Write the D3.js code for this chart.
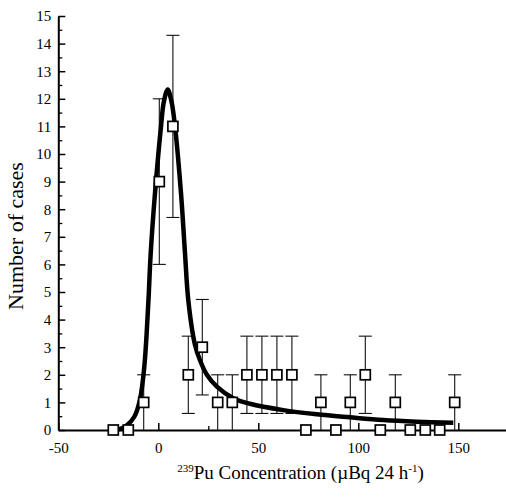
<!DOCTYPE html>
<html>
<head>
<meta charset="utf-8">
<script src="https://cdn.jsdelivr.net/npm/d3@7"></script>
<style>
  body { margin: 0; background: #fff; }
  svg { display: block; font-family: "Liberation Serif", "Times New Roman", serif; }
</style>
</head>
<body>
<svg id="chart"></svg>
<script>
// bin centres and counts
const binX = [-22.5, -15, -7.3, 0.5, 7.3, 15, 22, 29.7, 37, 44.3, 51.8, 59.3, 66.8,
  73.8, 81.3, 88.8, 96, 103.5, 111, 118.5, 126, 133.5, 140.7, 148.2];
const counts = [0, 0, 1, 9, 11, 2, 3, 1, 1, 2, 2, 2, 2, 0, 1, 0, 1, 2, 0, 1, 0, 0, 0, 1];
// error bar ends (null = no bar)
const errLo = [null, null, 0, 6, 7.7, 0.6, 1.27, 0, 0, 0.6, 0.6, 0.6, 0.6,
  null, 0, null, 0, 0.6, null, 0, null, null, null, 0];
const errHi = [null, null, 2, 12, 14.3, 3.4, 4.73, 2, 2, 3.4, 3.4, 3.4, 3.4,
  null, 2, null, 2, 3.4, null, 2, null, null, null, 2];

// fitted curve, points
const fitX = [-22, -19, -16, -12, -9.2, -7, -5, -3.8, -1.65, 1.35, 2.8, 4.7, 6.6, 8.35,
  11.35, 13.35, 15, 18.3, 21, 24.3, 29.3, 37.5, 45.8, 62.5, 79.2, 95.8, 112.5, 129.2, 147.5];
const fitY = [0, 0.04, 0.15, 0.48, 1.09, 2.29, 4.6, 6.4, 8.58, 11.0, 11.9, 12.34, 11.9, 11.0,
  8.58, 6.4, 4.7, 3.1, 2.5, 2.0, 1.57, 1.15, 0.95, 0.72, 0.57, 0.46, 0.36, 0.3, 0.26];

const xTicks = [-50, 0, 50, 100, 150];
const xMinor = [-25, 25, 75, 125];
const yTicks = d3.range(0, 16);
const yMinor = d3.range(0.5, 15, 1);

const width = 506, height = 498;
const svg = d3.select("#chart").attr("width", width).attr("height", height);

const x = d3.scaleLinear().domain([-50, 175]).range([58.3, 508.3]);
const y = d3.scaleLinear().domain([0, 15]).range([430, 16]);

// minor ticks first, no labels
svg.append("g")
  .attr("transform", "translate(0,430)")
  .call(d3.axisBottom(x).tickValues(xMinor).tickSize(-4).tickFormat(""))
  .call(g => g.select(".domain").remove())
  .call(g => g.selectAll("line").attr("stroke-width", 1.3));
svg.append("g")
  .attr("transform", "translate(58.3,0)")
  .call(d3.axisLeft(y).tickValues(yMinor).tickSize(-4).tickFormat(""))
  .call(g => g.select(".domain").remove())
  .call(g => g.selectAll("line").attr("stroke-width", 1.3));

// main axes
const xAxis = svg.append("g")
  .attr("transform", "translate(0,430)")
  .call(d3.axisBottom(x).tickValues(xTicks).tickFormat(d => String(d))
    .tickSize(-7).tickSizeOuter(0).tickPadding(12));
const yAxis = svg.append("g")
  .attr("transform", "translate(58.3,0)")
  .call(d3.axisLeft(y).tickValues(yTicks).tickFormat(d => String(d))
    .tickSize(-7).tickSizeOuter(0).tickPadding(7));

[xAxis, yAxis].forEach(g => {
  g.attr("font-family", "Liberation Serif, Times New Roman, serif")
    .attr("font-size", 15);
  g.select(".domain").attr("stroke-width", 2);
  g.selectAll(".tick line").attr("stroke-width", 1.5);
  g.selectAll("text").attr("fill", "#000");
});

// error bars
const bars = svg.append("g").attr("stroke", "#111").attr("stroke-width", 1.1);
binX.forEach((bx, i) => {
  if (errLo[i] == null) return;
  const cx = x(bx);
  bars.append("line").attr("x1", cx).attr("x2", cx).attr("y1", y(errLo[i])).attr("y2", y(errHi[i]));
  bars.append("line").attr("x1", cx - 6.5).attr("x2", cx + 6.5).attr("y1", y(errHi[i])).attr("y2", y(errHi[i]));
  if (errLo[i] > 0) {
    bars.append("line").attr("x1", cx - 6.5).attr("x2", cx + 6.5).attr("y1", y(errLo[i])).attr("y2", y(errLo[i]));
  }
});

// fitted curve
const line = d3.line()
  .x(d => x(d[0]))
  .y(d => y(d[1]))
  .curve(d3.curveCatmullRom.alpha(0.5));
svg.append("path")
  .datum(fitX.map((v, i) => [v, fitY[i]]))
  .attr("fill", "none")
  .attr("stroke", "#000")
  .attr("stroke-width", 4.5)
  .attr("stroke-linejoin", "round")
  .attr("d", line);

// data squares
svg.append("g")
  .selectAll("rect")
  .data(binX)
  .join("rect")
  .attr("x", d => x(d) - 5)
  .attr("y", (d, i) => y(counts[i]) - 5)
  .attr("width", 10)
  .attr("height", 10)
  .attr("fill", "#fff")
  .attr("stroke", "#000")
  .attr("stroke-width", 1.7);

// axis titles
const xl = svg.append("text")
  .attr("x", 300.5)
  .attr("y", 479)
  .attr("text-anchor", "middle")
  .style("font-size", "19px");
xl.append("tspan").attr("font-size", "11px").attr("dy", -7).text("239");
xl.append("tspan").attr("dy", 7).text("Pu Concentration (µBq 24 h");
xl.append("tspan").attr("font-size", "11px").attr("dy", -7).text("-1");
xl.append("tspan").attr("dy", 7).text(")");

svg.append("text")
  .attr("transform", "translate(23,236) rotate(-90)")
  .attr("text-anchor", "middle")
  .style("font-size", "22px")
  .text("Number of cases");
</script>
</body>
</html>
